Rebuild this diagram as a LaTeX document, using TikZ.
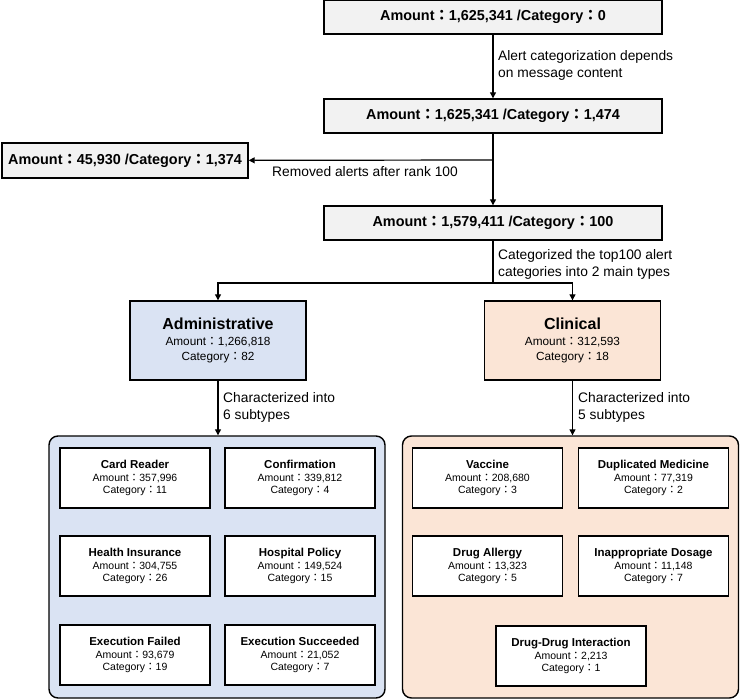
\documentclass[tikz,border=0pt]{standalone}
\usepackage{fontspec}
\setmainfont{Liberation Sans}
\newfontfamily\cjk{Noto Sans CJK TC}
\usetikzlibrary{arrows.meta}

\definecolor{boxgray}{HTML}{F2F2F2}
\definecolor{adminblue}{HTML}{DAE3F3}
\definecolor{clinpeach}{HTML}{FBE5D6}

\newcommand{\cln}{{\cjk ：}}
\newcommand{\subtype}[3]{{\bfseries\fontsize{11.5}{12.5}\selectfont #1}\\Amount\cln#2\\Category\cln#3}

\tikzset{
  flowbox/.style = {draw, line width=1.4pt, fill=boxgray, minimum width=338pt,
    minimum height=34pt, inner sep=0pt, font=\bfseries\fontsize{14.4}{17}\selectfont},
  typebox/.style = {draw, line width=1.4pt, minimum width=176pt, minimum height=79pt,
    align=center, inner sep=0pt, font=\fontsize{11.8}{15.5}\selectfont},
  groupbox/.style = {draw, line width=1.4pt, rounded corners=9pt,
    minimum width=336pt, minimum height=262pt},
  subbox/.style = {draw, line width=1.2pt, fill=white, minimum width=150pt,
    minimum height=60pt, align=center, inner sep=0pt, font=\fontsize{10.5}{12.5}\selectfont},
  note/.style = {anchor=west, align=left, inner sep=0pt, font=\fontsize{13.8}{17}\selectfont},
  flow/.style = {line width=1.2pt, -{Triangle[length=6pt,width=6pt]}}
}

\begin{document}
\begin{tikzpicture}[x=1pt, y=-1pt]
  \useasboundingbox (0,0) rectangle (740,699);

  % filtering steps
  \node [flowbox] (raw) at (493,17) {Amount\cln 1,625,341 /Category\cln 0};
  \node [flowbox] (sorted) at (493,116) {Amount\cln 1,625,341 /Category\cln 1,474};
  \node [flowbox, minimum width=246pt, minimum height=35pt] (removed) at (125,160.5)
    {Amount\cln 45,930 /Category\cln 1,374};
  \node [flowbox] (topk) at (493,223) {Amount\cln 1,579,411 /Category\cln 100};
  \coordinate (cut) at (493,160);
  \coordinate (fork) at (493,283);

  \draw [flow] (raw) -- (sorted);
  \draw [flow] (sorted) -- (topk);
  \draw [flow] (cut) -- (removed);
  \node [note] at (498,65) {Alert categorization depends\\on message content};
  \node [note, anchor=base west] at (272,176) {Removed alerts after rank 100};
  \node [note] at (498,264) {Categorized the top100 alert\\categories into 2 main types};

  % two main types
  \node [typebox, fill=adminblue] (admin) at (218,340.5)
    {{\bfseries\fontsize{16}{16}\selectfont Administrative}\\Amount\cln 1,266,818\\Category\cln 82};
  \node [typebox, fill=clinpeach] (clinical) at (572.5,340.5)
    {{\bfseries\fontsize{16}{16}\selectfont Clinical}\\Amount\cln 312,593\\Category\cln 18};
  \draw [line width=1.2pt] (topk) -- (fork);
  \draw [flow] (fork) -| (admin);
  \draw [flow] (fork) -| (clinical);

  % subtypes
  \node [groupbox, fill=adminblue] (adminset) at (217,567) {};
  \node [groupbox, fill=clinpeach] (clinset) at (570.5,567) {};
  \draw [flow] (admin) -- (admin |- adminset.north);
  \draw [flow] (clinical) -- (clinical |- clinset.north);
  \node [note] at (223,407) {Characterized into\\6 subtypes};
  \node [note] at (578,407) {Characterized into\\5 subtypes};

  \node [subbox] (cardreader) at (135,478) {\subtype{Card Reader}{357,996}{11}};
  \node [subbox] (confirmation) at (300,478) {\subtype{Confirmation}{339,812}{4}};
  \node [subbox] (insurance) at (135,566) {\subtype{Health Insurance}{304,755}{26}};
  \node [subbox] (policy) at (300,566) {\subtype{Hospital Policy}{149,524}{15}};
  \node [subbox] (execfail) at (135,655) {\subtype{Execution Failed}{93,679}{19}};
  \node [subbox] (execok) at (300,655) {\subtype{Execution Succeeded}{21,052}{7}};

  \node [subbox] (vaccine) at (487.5,478) {\subtype{Vaccine}{208,680}{3}};
  \node [subbox] (duplicate) at (653.5,478) {\subtype{Duplicated Medicine}{77,319}{2}};
  \node [subbox] (allergy) at (487.5,566) {\subtype{Drug Allergy}{13,323}{5}};
  \node [subbox] (dosage) at (653.5,566) {\subtype{Inappropriate Dosage}{11,148}{7}};
  \node [subbox] (interaction) at (571,656) {\subtype{Drug-Drug Interaction}{2,213}{1}};
\end{tikzpicture}
\end{document}
